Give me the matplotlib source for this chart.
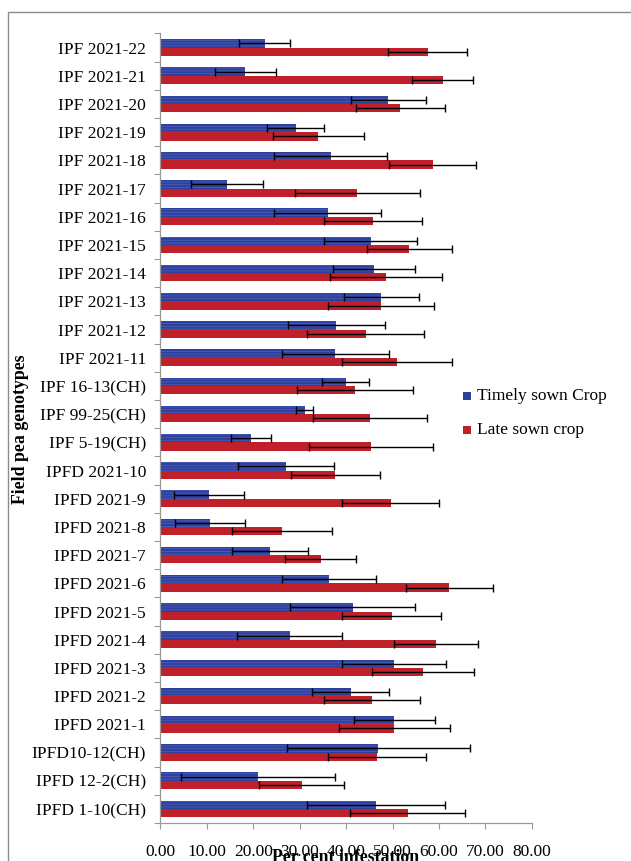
import matplotlib
matplotlib.use("Agg")
import matplotlib.pyplot as plt
from matplotlib.patches import Rectangle
import numpy as np

# Genotypes, listed top to bottom
genotypes = [
    "IPF 2021-22", "IPF 2021-21", "IPF 2021-20", "IPF 2021-19", "IPF 2021-18",
    "IPF 2021-17", "IPF 2021-16", "IPF 2021-15", "IPF 2021-14", "IPF 2021-13",
    "IPF 2021-12", "IPF 2021-11", "IPF 16-13(CH)", "IPF 99-25(CH)", "IPF 5-19(CH)",
    "IPFD 2021-10", "IPFD 2021-9", "IPFD 2021-8", "IPFD 2021-7", "IPFD 2021-6",
    "IPFD 2021-5", "IPFD 2021-4", "IPFD 2021-3", "IPFD 2021-2", "IPFD 2021-1",
    "IPFD10-12(CH)", "IPFD 12-2(CH)", "IPFD 1-10(CH)",
]

# Per cent infestation, timely sown crop (mean and error)
timely = [22.5, 18.3, 49.1, 29.1, 36.7, 14.3, 36.0, 45.3, 46.0, 47.6,
          37.9, 37.7, 39.9, 31.1, 19.5, 27.0, 10.5, 10.7, 23.6, 36.3,
          41.4, 27.8, 50.4, 41.0, 50.4, 46.9, 21.1, 46.4]
timely_err = [5.5, 6.5, 8.1, 6.1, 12.2, 7.7, 11.5, 10.0, 8.8, 8.0,
              10.5, 11.6, 5.0, 1.8, 4.4, 10.4, 7.6, 7.5, 8.1, 10.2,
              13.4, 11.3, 11.2, 8.3, 8.8, 19.7, 16.6, 14.8]

# Per cent infestation, late sown crop (mean and error)
late = [57.6, 60.8, 51.7, 34.0, 58.6, 42.4, 45.8, 53.6, 48.6, 47.5,
        44.2, 51.0, 41.9, 45.1, 45.3, 37.7, 49.6, 26.2, 34.5, 62.2,
        49.8, 59.4, 56.5, 45.5, 50.4, 46.7, 30.4, 53.3]
late_err = [8.5, 6.6, 9.6, 9.8, 9.4, 13.5, 10.6, 9.1, 12.1, 11.4,
            12.6, 11.8, 12.5, 12.3, 13.4, 9.5, 10.5, 10.7, 7.7, 9.4,
            10.7, 9.0, 11.0, 10.3, 12.0, 10.6, 9.1, 12.4]

x_ticks = [0, 10, 20, 30, 40, 50, 60, 70, 80]

BLUE = "#2C40A0"
RED = "#C0202A"
SERIF = "Liberation Serif"
FS = 12.5

plt.rcParams["font.family"] = SERIF
plt.rcParams["hatch.color"] = "#4A5CB4"
plt.rcParams["hatch.linewidth"] = 0.6

fig = plt.figure(figsize=(6.31, 8.61), dpi=100)
ax = fig.add_axes([0.2543, 0.0441, 0.5886, 0.9170])

n = len(genotypes)
pos = np.arange(n)[::-1].astype(float)  # first genotype at top
h = 0.295

ax.barh(pos + h / 2, timely, height=h, color=BLUE, linewidth=0.0,
        hatch="------", zorder=2)
ax.barh(pos - h / 2, late, height=h, color=RED, linewidth=0, zorder=2)

ekw = dict(fmt="none", ecolor="black", elinewidth=1.0, capsize=3.0,
           capthick=1.0, zorder=3)
ax.errorbar(timely, pos + h / 2, xerr=timely_err, **ekw)
ax.errorbar(late, pos - h / 2, xerr=late_err, **ekw)

ax.set_xlim(0, 80)
ax.set_ylim(-0.5, n - 0.5)

# x axis
ax.set_xticks(x_ticks)
ax.set_xticklabels([f"{v:.2f}" for v in x_ticks], fontsize=FS)
ax.tick_params(axis="x", direction="out", length=4, width=0.8,
               color="#999999", pad=11)

# y axis: tick marks between groups, labels at group centres
ax.set_yticks(np.arange(-0.5, n, 1.0))
ax.set_yticklabels([])
ax.set_yticks(pos, minor=True)
ax.set_yticklabels(genotypes, minor=True, fontsize=FS)
ax.tick_params(axis="y", which="major", direction="out", length=4,
               width=0.8, color="#999999")
ax.tick_params(axis="y", which="minor", length=0, pad=10.5)

for s in ("top", "right"):
    ax.spines[s].set_visible(False)
for s in ("left", "bottom"):
    ax.spines[s].set_color("#999999")
    ax.spines[s].set_linewidth(0.9)

# outer chart frame
W, H = 631, 861
fig.add_artist(Rectangle((8 / W, -0.05), 1.2, 1 - 12.5 / H + 0.05,
                         transform=fig.transFigure, fill=False,
                         edgecolor="#8C8C8C", linewidth=1.0))

fig.text(21 / W, 0.502, "Field pea genotypes", rotation=90,
         ha="center", va="center", fontsize=12.8, fontweight="bold")
fig.text(346 / W, 1 - 857 / H, "Per cent infestation",
         ha="center", va="center", fontsize=12.8, fontweight="bold")

# legend
for label, col, yc in [("Timely sown Crop", BLUE, 395.5),
                       ("Late sown crop", RED, 430.5)]:
    fig.add_artist(Rectangle((463 / W, 1 - (yc + 4) / H), 8 / W, 8 / H,
                             transform=fig.transFigure, facecolor=col,
                             edgecolor="none"))
    fig.text(477 / W, 1 - yc / H, label, ha="left", va="center", fontsize=FS)

fig.savefig("out.png", dpi=100)
